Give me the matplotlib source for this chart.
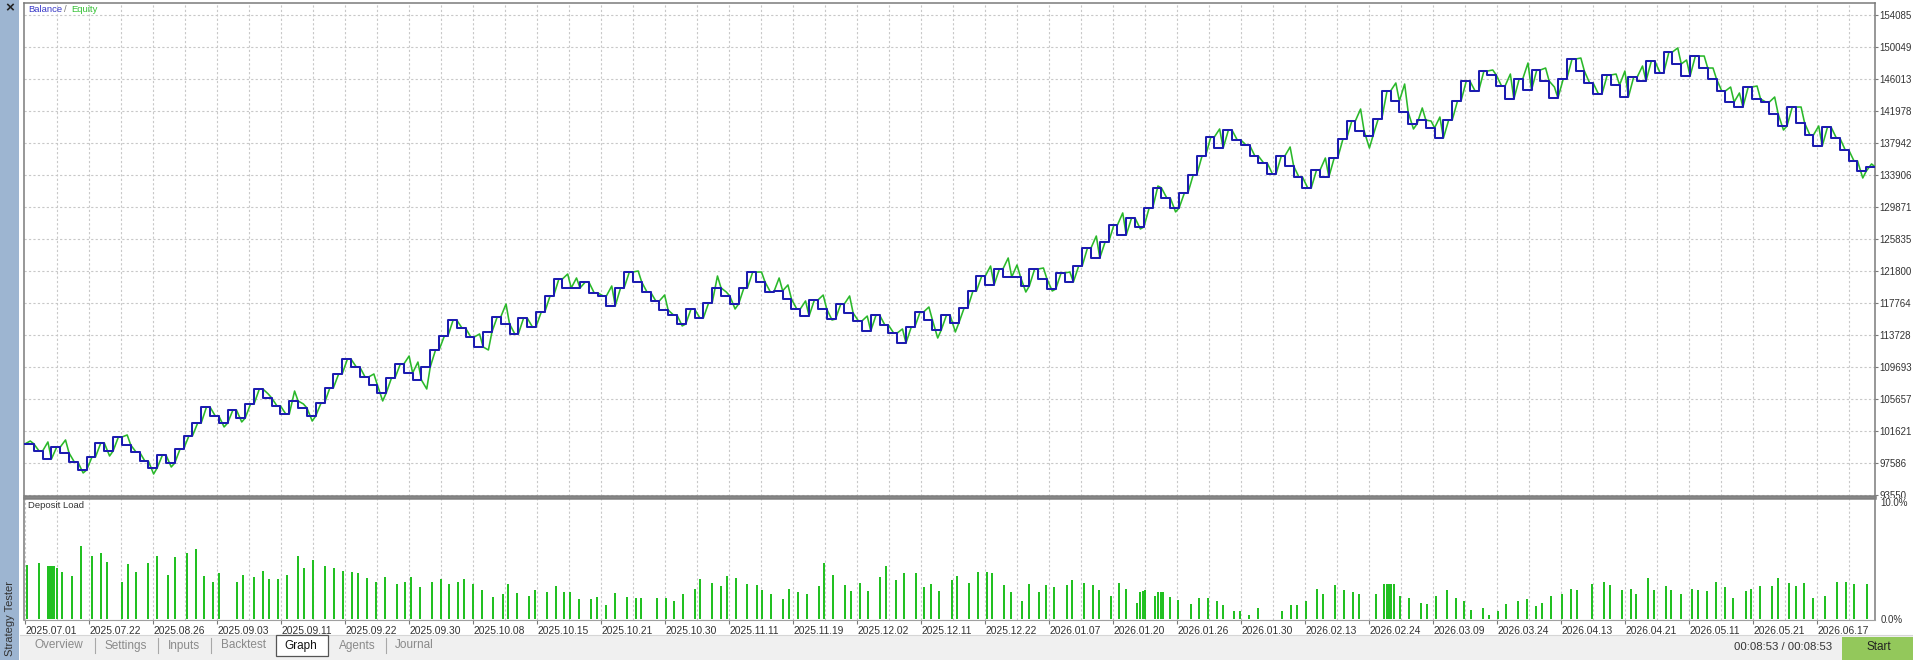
import numpy as np
import matplotlib.pyplot as plt
from matplotlib.patches import Rectangle
from matplotlib.lines import Line2D

# balance after each closed trade
balance = [
    100000, 99100, 98090, 99600, 98850, 97710, 96710, 98340, 100110, 99100,
    100860, 99860, 98970, 97840, 96960, 98590, 97590, 99350, 100990, 102630,
    104650, 103510, 102630, 104270, 103260, 105030, 106920, 105790, 104780, 103770,
    105410, 104530, 103510, 105150, 107050, 108810, 110700, 109700, 108430, 107420,
    106420, 108310, 110070, 108940, 108050, 109700, 111840, 113600, 115620, 114610,
    113480, 112220, 114110, 116000, 115120, 113860, 115880, 114740, 116630, 118650,
    120790, 119660, 119660, 120410, 119050, 118670, 117410, 119660, 121670, 120410,
    119150, 118020, 116880, 116260, 115120, 117010, 115880, 117790, 119680, 118650,
    117640, 119660, 121670, 120410, 119170, 119300, 118270, 117010, 116120, 118140,
    117010, 115740, 117640, 116500, 115500, 114240, 116250, 114990, 113980, 112720,
    114740, 116630, 115620, 114360, 116250, 115250, 117140, 119280, 121170, 120040,
    122050, 121040, 121040, 119910, 122050, 120790, 119530, 121550, 120410, 122430,
    124700, 123440, 125460, 127600, 126340, 128480, 127350, 129750, 132270, 131010,
    129750, 131640, 133910, 136300, 138700, 137310, 139580, 138320, 137690, 136300,
    135420, 134030, 136300, 135040, 133650, 132270, 134540, 133650, 136050, 138450,
    140710, 139460, 138820, 140970, 144500, 143240, 141850, 140340, 140840, 139850,
    138570, 140840, 143240, 145760, 144500, 147020, 146520, 145130, 143490, 146010,
    144630, 147150, 145760, 143620, 146010, 148530, 147020, 145510, 144120, 146520,
    145260, 143740, 146270, 145760, 148280, 146770, 149420, 147910, 146390, 148910,
    147400, 146010, 144500, 143110, 142480, 145000, 143490, 143110, 141600, 140090,
    142480, 140460, 138950, 137560, 139960, 138570, 137080, 135690, 134410, 134920,
]

# equity extreme reached during each trade
equity = [
    100360, 99100, 100240, 99600, 100490, 97710, 96330, 98340, 100110, 98470,
    100860, 101120, 98970, 97840, 96200, 98590, 97080, 99350, 100990, 102630,
    104650, 103510, 102130, 104270, 102760, 105030, 106920, 106300, 104780, 103770,
    106660, 105030, 102880, 105150, 107050, 108810, 110700, 109700, 108430, 108810,
    105410, 108310, 110070, 111080, 110320, 106920, 111840, 113600, 115620, 114610,
    113480, 113860, 111840, 116000, 117640, 113860, 115880, 114740, 116630, 118650,
    120790, 121420, 120920, 120410, 119050, 118670, 119910, 119660, 121670, 121800,
    119150, 118020, 118770, 116260, 114870, 117010, 115880, 117790, 121170, 119150,
    117010, 119660, 121670, 121670, 119170, 120920, 120040, 117010, 118020, 118140,
    118770, 115620, 117640, 118650, 115500, 116120, 116250, 114990, 113980, 114490,
    114740, 116630, 117260, 113350, 116250, 114110, 117140, 119280, 121170, 122430,
    122050, 123440, 122560, 119150, 122050, 122180, 119280, 121550, 121670, 122430,
    124700, 126210, 125460, 127600, 129120, 128480, 127100, 129750, 132520, 131010,
    129250, 131640, 133910, 136300, 138700, 139710, 139580, 138320, 137690, 136300,
    135420, 134030, 136300, 137440, 133650, 132270, 134540, 136050, 136050, 138450,
    140710, 142230, 137310, 140970, 144500, 145510, 145380, 139710, 142360, 140710,
    141220, 140840, 143240, 145760, 144500, 147020, 147150, 145130, 146640, 146010,
    148030, 147150, 147400, 145000, 146010, 148530, 148660, 145510, 144120, 146520,
    146640, 147020, 146270, 147650, 148280, 146770, 149420, 149930, 148410, 148910,
    148910, 147400, 144500, 145000, 144250, 145000, 145130, 143110, 143740, 139580,
    142480, 142480, 138950, 140090, 139960, 138570, 137080, 135690, 133530, 135300,
]

# deposit load bars: position in trade units and load in percent
load_pos = [
    0.2, 1.6, 2.6, 2.8, 3.1, 3.3, 3.6, 4.2, 5.3, 6.4, 7.6, 8.6, 9.3, 11.0, 11.7,
    12.6, 14.0, 15.0, 16.2, 17.0, 18.4, 19.4, 20.3, 21.3, 22.0, 24.1, 24.7, 26.0,
    27.0, 27.7, 28.7, 29.7, 31.0, 31.7, 32.7, 34.1, 35.1, 36.1, 37.1, 37.8, 38.8,
    39.8, 40.9, 42.2, 43.1, 43.8, 44.8, 46.2, 47.2, 48.1, 49.1, 49.8, 50.9, 51.9,
    53.1, 54.3, 54.8, 55.8, 57.2, 57.9, 59.3, 60.3, 61.2, 61.9, 62.9, 64.2, 64.9,
    65.9, 67.0, 68.3, 69.4, 69.9, 71.7, 72.8, 73.7, 74.7, 76.1, 76.6, 78.0, 79.0,
    79.7, 80.7, 82.0, 83.1, 83.7, 84.7, 86.0, 86.7, 87.7, 88.8, 90.1, 90.7, 91.7,
    93.1, 93.8, 94.8, 95.7, 97.0, 97.7, 98.9, 99.8, 101.1, 102.0, 102.8, 103.7,
    105.2, 105.8, 107.2, 108.2, 109.2, 109.8, 111.1, 111.9, 113.2, 114.0, 115.1,
    115.9, 116.8, 118.3, 118.8, 120.2, 121.2, 121.9, 123.3, 124.2, 125.0, 126.2,
    126.6, 126.9, 127.1, 128.3, 128.6, 128.9, 129.2, 130.0, 130.9, 132.4, 133.3,
    134.3, 135.3, 136.0, 137.2, 137.9, 138.9, 140.0, 142.7, 143.7, 144.4, 145.4,
    146.7, 147.3, 148.7, 149.7, 150.7, 151.4, 153.4, 154.3, 154.6, 154.8, 155.1,
    155.4, 156.1, 157.1, 158.5, 159.1, 160.2, 161.4, 162.4, 163.3, 164.1, 165.5,
    166.2, 167.2, 168.1, 169.5, 170.5, 171.5, 172.2, 173.2, 174.5, 175.5, 176.2,
    177.9, 179.2, 179.9, 181.3, 182.3, 182.9, 184.2, 184.9, 186.3, 186.8, 188.0,
    189.2, 189.9, 190.9, 191.9, 193.0, 193.9, 195.3, 195.9, 196.9, 198.3, 199.0,
    200.2, 201.0, 201.9, 203.0, 204.3, 205.7, 206.7, 207.6, 209.1,
]
load_pct = [
    4.6, 4.8, 4.5, 4.5, 4.5, 4.5, 4.4, 4.0, 3.7, 6.2, 5.4, 5.6, 4.9, 3.2, 4.7,
    4.0, 4.8, 5.4, 3.8, 5.3, 5.6, 6.0, 3.7, 3.2, 3.9, 3.2, 3.8, 3.6,
    4.1, 3.4, 3.4, 3.8, 5.4, 4.4, 5.0, 4.5, 4.4, 4.1, 4.0, 3.9, 3.5,
    3.2, 3.6, 3.0, 3.2, 3.6, 2.7, 3.2, 3.4, 3.0, 3.2, 3.4, 3.0, 2.5,
    1.9, 2.1, 3.0, 2.2, 2.0, 2.5, 2.3, 2.8, 2.3, 2.3, 1.7, 1.7, 1.9,
    1.2, 2.2, 1.9, 1.8, 1.8, 1.8, 1.8, 1.5, 2.1, 2.6, 3.4, 3.1, 2.8,
    3.7, 3.5, 3.0, 2.9, 2.5, 2.1, 1.7, 2.6, 2.3, 2.1, 2.8, 4.8, 3.8,
    2.9, 2.4, 3.1, 2.4, 3.6, 4.5, 3.3, 3.9, 3.9, 2.7, 3.0, 2.4,
    3.3, 3.7, 3.1, 4.0, 4.0, 3.9, 2.9, 2.3, 1.5, 3.0, 2.3,
    2.9, 2.7, 2.9, 3.3, 3.1, 2.9, 2.5, 2.0, 3.1, 2.6, 1.4,
    2.3, 2.4, 2.5, 2.0, 2.3, 2.3, 2.3, 1.9, 1.6, 1.3, 1.8,
    1.8, 1.5, 1.2, 0.7, 0.7, 0.3, 0.9, 0.7, 1.2, 1.2, 1.5,
    2.6, 2.1, 2.9, 2.5, 2.3, 2.1, 2.1, 3.0, 3.0, 3.0, 3.0,
    3.0, 2.0, 1.8, 1.4, 1.3, 2.0, 2.5, 1.8, 1.5, 0.8, 0.9,
    0.3, 0.7, 1.3, 1.5, 1.7, 1.1, 1.4, 2.0, 2.1, 2.6, 2.5,
    3.0, 3.2, 2.9, 2.5, 2.6, 2.1, 3.5, 2.5, 2.8, 2.5, 2.1,
    2.6, 2.5, 2.4, 3.2, 2.7, 1.8, 2.4, 2.6, 2.8, 2.8, 3.5,
    3.1, 2.8, 3.1, 1.8, 2.0, 3.2, 3.2, 3.0, 3.0,
]

y_ticks = [93550, 97586, 101621, 105657, 109693, 113728, 117764, 121800,
           125835, 129871, 133906, 137942, 141978, 146013, 150049, 154085]

date_labels = [
    "2025.07.01", "2025.07.22", "2025.08.26", "2025.09.03", "2025.09.11",
    "2025.09.22", "2025.09.30", "2025.10.08", "2025.10.15", "2025.10.21",
    "2025.10.30", "2025.11.11", "2025.11.19", "2025.12.02", "2025.12.11",
    "2025.12.22", "2026.01.07", "2026.01.20", "2026.01.26", "2026.01.30",
    "2026.02.13", "2026.02.24", "2026.03.09", "2026.03.24", "2026.04.13",
    "2026.04.21", "2026.05.11", "2026.05.21", "2026.06.17",
]

tabs = ["Overview", "Settings", "Inputs", "Backtest", "Graph", "Agents", "Journal"]

plt.rcParams['font.family'] = ['Liberation Sans', 'DejaVu Sans']

W, H = 1913, 660
fig = plt.figure(figsize=(W / 100, H / 100), dpi=100)
fig.patch.set_facecolor('white')


def fx(px):
    return px / W


def fy(py):
    return 1 - py / H


BLUE = '#1c1cb0'
GREEN = '#2ab82a'
BAR_GREEN = '#22c022'
GRID = '#c8c8c8'
FRAME = '#7a7a7a'

# pixel scale of the tester graph: one trade ~ 8.81 px, grid every 32 px
px_per_trade = 8.81
grid_step = 32 / px_per_trade
x_lo = -1 / px_per_trade
x_hi = 1850 / px_per_trade

ax = fig.add_axes([fx(24), fy(496), fx(1875) - fx(24), fy(3) - fy(496)])
dep = fig.add_axes([fx(24), fy(620), fx(1875) - fx(24), fy(498) - fy(620)])
dep.set_zorder(3)

# --- balance / equity ---
n = len(balance)
idx = np.arange(n)
bx = np.append(idx, n)
by = np.append(balance, balance[-1])
ex = np.concatenate([[0.0], np.column_stack([idx + 0.6, idx + 1.0]).ravel()])
ey = np.concatenate([[balance[0]], np.column_stack([equity, balance]).ravel()])

ax.plot(ex, ey, color=GREEN, lw=1.15, zorder=3)
ax.step(bx, by, where='post', color=BLUE, lw=1.45, zorder=4)

ystep = (y_ticks[1] - y_ticks[0]) / 32
ax.set_ylim(y_ticks[0] - ystep * 1, y_ticks[-1] + ystep * 12)
ax.set_xlim(x_lo, x_hi)
ax.set_yticks(y_ticks)
ax.set_yticklabels([str(v) for v in y_ticks])
ax.yaxis.tick_right()
ax.tick_params(axis='y', length=2, width=0.8, color=FRAME, pad=1,
               labelsize=7.0, labelcolor='#333333')
ax.set_xticks(np.arange(1, 58) * grid_step)
ax.tick_params(axis='x', length=0, labelbottom=False)
ax.grid(True, color=GRID, linestyle=(0, (2, 2)), linewidth=0.8)
ax.set_axisbelow(True)
for side in ['left', 'top', 'right']:
    ax.spines[side].set_color(FRAME)
    ax.spines[side].set_linewidth(1.1)
ax.spines['bottom'].set_color('#808080')
ax.spines['bottom'].set_linewidth(1.8)

ax.text(fx(28), fy(10), "Balance", transform=fig.transFigure, color='#3a3ac8',
        fontsize=6.8, va='center', ha='left')
ax.text(fx(64), fy(10), "/", transform=fig.transFigure, color='#777777',
        fontsize=6.8, va='center', ha='left')
ax.text(fx(71), fy(10), "Equity", transform=fig.transFigure, color='#36c236',
        fontsize=6.8, va='center', ha='left')

# --- deposit load ---
dep.vlines(load_pos, 0, load_pct, color=BAR_GREEN, lw=1.4, zorder=3,
           antialiased=False)
dep.set_xlim(x_lo, x_hi)
dep.set_ylim(-0.085, 10.34)
dep.set_yticks([0, 10])
dep.set_yticklabels(['0.0%', '10.0%'])
dep.yaxis.tick_right()
dep.tick_params(axis='y', length=0, pad=4, labelsize=7.0, labelcolor='#333333')
major = np.arange(len(date_labels)) * 2 * grid_step
minor = major + grid_step
dep.set_xticks(major)
dep.set_xticklabels(date_labels)
dep.set_xticks(minor, minor=True)
dep.tick_params(axis='x', which='major', length=3, width=0.8, color=FRAME,
                pad=1, labelsize=7.4, labelcolor='#333333')
dep.tick_params(axis='x', which='minor', length=0)
for lbl in dep.get_xticklabels():
    lbl.set_horizontalalignment('left')
dep.grid(True, axis='x', which='both', color=GRID, linestyle=(0, (2, 2)),
         linewidth=0.8)
dep.set_axisbelow(True)
for side in ['left', 'right']:
    dep.spines[side].set_color(FRAME)
    dep.spines[side].set_linewidth(1.1)
dep.spines['top'].set_color('#808080')
dep.spines['top'].set_linewidth(1.8)
dep.spines['bottom'].set_color('#a0a0a0')
dep.spines['bottom'].set_linewidth(0.8)
dep.text(fx(28), fy(506), "Deposit Load", transform=fig.transFigure,
         color='#333333', fontsize=6.8, va='center', ha='left')

# mask lower half of the bottom price label, like the tester window does
fig.add_artist(Rectangle((fx(1876), fy(505)), fx(1913) - fx(1876), fy(497.5) - fy(505),
                         transform=fig.transFigure, facecolor='white',
                         edgecolor='none', zorder=2))

# --- window chrome ---
fig.add_artist(Rectangle((0, 0), fx(19), 1, transform=fig.transFigure,
                         facecolor='#9db5d1', edgecolor='none', zorder=5))
fig.text(fx(9.5), fy(8), "\u00d7", fontsize=11, fontweight='bold', color='#222222',
         ha='center', va='center', zorder=6)
fig.text(fx(10), fy(618), "Strategy Tester", rotation=90, fontsize=8,
         color='#333333', ha='center', va='center', zorder=6)

fig.add_artist(Rectangle((fx(20), 0), 1 - fx(20), fy(635), transform=fig.transFigure,
                         facecolor='#f0f0f0', edgecolor='none', zorder=4))
fig.add_artist(Line2D([fx(20), 1], [fy(635), fy(635)], transform=fig.transFigure,
                      color='#d6d6d6', lw=0.8, zorder=5))

tab_x = [59, 126, 184, 243, 301, 357, 414]
sep_x = [95, 158, 211, 386]
fig.add_artist(Rectangle((fx(276), fy(656)), fx(328) - fx(276), fy(635) - fy(656),
                         transform=fig.transFigure, facecolor='white',
                         edgecolor='#555555', lw=0.9, zorder=5))
for name, x in zip(tabs, tab_x):
    col = '#111111' if name == "Graph" else '#8a8a8a'
    fig.text(fx(x), fy(645.5), name, fontsize=8.5, color=col,
             ha='center', va='center', zorder=6)
for x in sep_x:
    fig.add_artist(Line2D([fx(x), fx(x)], [fy(638), fy(653)],
                          transform=fig.transFigure, color='#a8a8a8', lw=0.8, zorder=6))

fig.text(fx(1783), fy(647), "00:08:53 / 00:08:53", fontsize=8.2, color='#333333',
         ha='center', va='center', zorder=6)
fig.add_artist(Rectangle((fx(1842), 0), 1 - fx(1842), fy(637), transform=fig.transFigure,
                         facecolor='#93c85b', edgecolor='none', zorder=5))
fig.text(fx(1879), fy(647.5), "Start", fontsize=8.5, color='#222222',
         ha='center', va='center', zorder=6)

fig.savefig('out.png', dpi=100, facecolor='white')
